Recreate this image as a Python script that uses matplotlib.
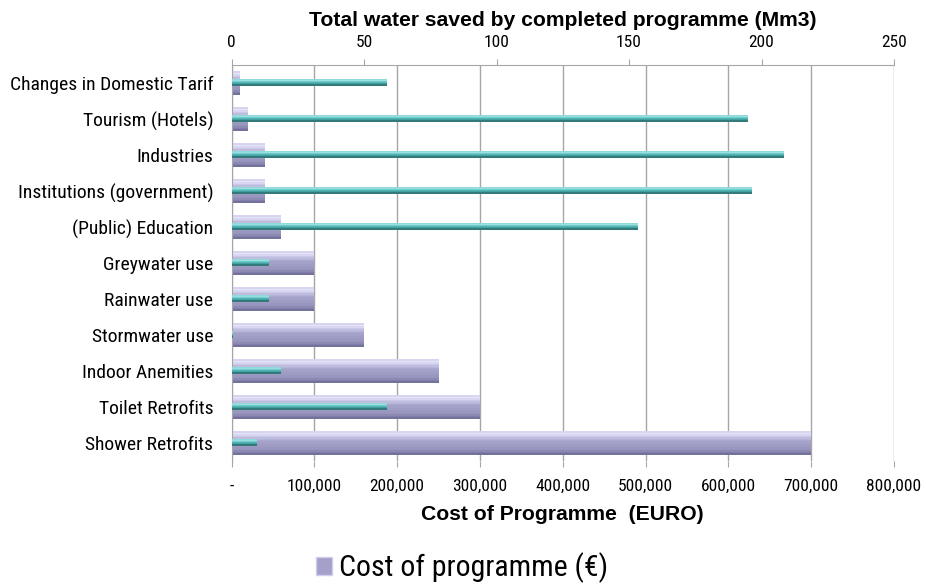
import matplotlib
matplotlib.use("Agg")
import matplotlib.pyplot as plt
from matplotlib.patches import Patch
from matplotlib.ticker import FuncFormatter
from matplotlib.colors import LinearSegmentedColormap
import numpy as np

NARROW = ['Liberation Sans Narrow', 'Roboto Condensed', 'Liberation Sans', 'DejaVu Sans']
BOLD = ['Liberation Sans', 'DejaVu Sans']
plt.rcParams['font.family'] = NARROW

categories = ["Changes in Domestic Tarif", "Tourism (Hotels)", "Industries",
              "Institutions (government)", "(Public) Education", "Greywater use",
              "Rainwater use", "Stormwater use", "Indoor Anemities",
              "Toilet Retrofits", "Shower Retrofits"]
cost_eur = [10000, 20000, 40000, 40000, 60000, 100000, 100000, 160000, 250000, 300000, 700000]
water_mm3 = [58.5, 195, 208.5, 196.5, 153.5, 14.3, 14.3, 0.5, 18.6, 58.5, 9.5]
cost_ticks = [0, 100000, 200000, 300000, 400000, 500000, 600000, 700000, 800000]
water_ticks = [0, 50, 100, 150, 200, 250]

fig = plt.figure(figsize=(9.26, 5.88), dpi=100)
ax = fig.add_axes([231.5 / 926, 1 - 461 / 588, 662.5 / 926, 396 / 588])

y = np.arange(len(categories))

# cost bars drawn as stacked horizontal bands to imitate the vertical gradient
cost_cmap = LinearSegmentedColormap.from_list(
    'cost', [(0.0, '#C9C7E8'), (0.08, '#E9E8FA'), (0.25, '#C3C1E3'),
             (0.45, '#A6A3CB'), (0.8, '#9592BC'), (1.0, '#6F6C97')])
H = 0.64
NB = 16
for k in range(NB):
    off = -H / 2 + (k + 0.5) * H / NB
    ax.barh(y + off, cost_eur, height=H / NB * 1.1, color=cost_cmap((k + 0.5) / NB),
            edgecolor='none', linewidth=0, antialiased=False, zorder=2)

ax.set_xlim(0, 800000)
ax.set_ylim(len(categories) - 0.5, -0.5)
ax.set_yticks(y)
ax.set_yticklabels(categories, fontsize=14)
ax.set_xticks(cost_ticks)
ax.xaxis.set_major_formatter(FuncFormatter(lambda v, p: '-' if v == 0 else f"{int(v):,}"))
ax.tick_params(axis='x', labelsize=12.5, length=4, color='#A6A6A6', pad=9)
ax.tick_params(axis='y', length=0, pad=13)
ax.grid(axis='x', color='#A6A6A6', linewidth=1.0, zorder=0)
ax.set_axisbelow(True)
for s in ['right', 'bottom', 'top']:
    ax.spines[s].set_visible(False)
ax.spines['left'].set_color('#A6A6A6')
ax.set_xlabel("Cost of Programme  (EURO)", fontsize=15.2, fontweight='bold', labelpad=8,
              family=BOLD)

ax2 = ax.twiny()
water_cmap = LinearSegmentedColormap.from_list(
    'water', [(0.0, '#7ECFCF'), (0.2, '#A8E6E6'), (0.5, '#5BC0C0'), (0.8, '#3F9A9A'), (1.0, '#2A6565')])
HW = 0.18
NW = 6
for k in range(NW):
    off = -0.02 - HW / 2 + (k + 0.5) * HW / NW
    ax2.barh(y + off, water_mm3, height=HW / NW * 1.1, color=water_cmap((k + 0.5) / NW),
             edgecolor='none', linewidth=0, antialiased=False, zorder=3)
ax2.set_xlim(0, 250)
ax2.set_xticks(water_ticks)
ax2.tick_params(axis='x', labelsize=12.5, length=4, color='#A6A6A6', pad=7)
for s in ['right', 'bottom', 'left']:
    ax2.spines[s].set_visible(False)
ax2.spines['top'].set_color('#A6A6A6')
ax2.set_xlabel("Total water saved by completed programme (Mm3)", fontsize=15.2,
               fontweight='bold', labelpad=6, family=BOLD)
ax2.set_ylim(ax.get_ylim())

handles = [Patch(facecolor='#A3A0C9', edgecolor='#D0CEEC', label='Cost of programme (€)')]
fig.legend(handles=handles, loc='center', bbox_to_anchor=(0.499, 0.034), frameon=False,
           handlelength=0.55, handleheight=0.55, handletextpad=0.25,
           prop={'family': NARROW, 'size': 21.5})

fig.savefig("out.png", dpi=100)
